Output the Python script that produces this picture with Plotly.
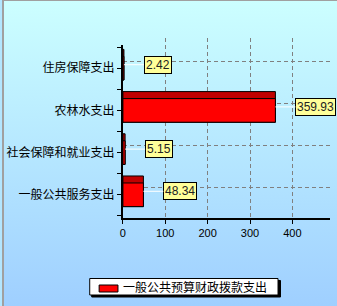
import plotly.graph_objects as go

categories = ["一般公共服务支出", "社会保障和就业支出", "农林水支出", "住房保障支出"]
values = [48.34, 5.15, 359.93, 2.42]
value_labels = ["48.34", "5.15", "359.93", "2.42"]
series_name = "一般公共预算财政拨款支出"
x_ticks = [0, 100, 200, 300, 400]

W, H = 337, 306
def px_x(p):
    return p / W
def px_y(p):
    return 1 - p / H

pos = list(range(len(categories)))
front_off, front_w, depth_w = -0.28, 0.56, 0.166
bar_color, depth_color = "#FF0000", "#C00000"

fig = go.Figure()

# background gradient (subplot xy)
fig.add_trace(go.Scatter(
    x=[0, 1, 1, 0, 0], y=[0, 0, 1, 1, 0], mode="lines", fill="toself",
    line=dict(width=0), fillgradient=dict(type="vertical",
    colorscale=[[0, "#9FCFFF"], [1, "#CCFFFF"]]),
    hoverinfo="skip", showlegend=False, xaxis="x", yaxis="y"))

# grid subplot helper (x2y2)
fig.add_trace(go.Scatter(x=[None], y=[None], xaxis="x2", yaxis="y2",
                         showlegend=False, hoverinfo="skip"))

# depth (top face) bars
fig.add_trace(go.Bar(
    y=pos, x=values, orientation="h", offset=front_off, width=front_w + depth_w,
    marker=dict(color=depth_color, line=dict(color="black", width=1)),
    showlegend=False, hoverinfo="skip", xaxis="x3", yaxis="y3"))
# front bars
fig.add_trace(go.Bar(
    y=pos, x=values, orientation="h", offset=front_off, width=front_w,
    name=series_name, showlegend=False,
    marker=dict(color=bar_color, line=dict(color="black", width=1)),
    xaxis="x3", yaxis="y3"))

label_y = [p + front_off + (front_w + depth_w) / 2 for p in pos]
for v, t, yy in zip(values, value_labels, label_y):
    fig.add_annotation(x=v, y=yy, xref="x3", yref="y3", text=t,
                       showarrow=True, arrowhead=0, arrowcolor="white", arrowwidth=1,
                       ax=20, ay=0, xanchor="left", standoff=0,
                       bgcolor="#FFFF99", bordercolor="black", borderwidth=1, borderpad=1,
                       font=dict(family="Liberation Sans", size=12, color="#222"))

# legend (drawn as box + swatch + text)
fig.add_annotation(x=px_x(119), y=px_y(286.5), xref="paper", yref="paper", text=series_name,
                   showarrow=False, xanchor="left", yanchor="middle",
                   font=dict(family="Noto Sans CJK SC", size=12, color="black"))

x_dom = [px_x(121), px_x(330)]
xr = [0, 489]
y3_dom = [px_y(218), px_y(45)]
y3r = [-0.55, 3.55]
unit = (218 - 45) / (y3r[1] - y3r[0])
# grid subplot shifted up by the 3D depth (7px)
y2_dom = [px_y(218), px_y(38)]
c0 = 218 - (0 - y3r[0]) * unit - 7
y2_lo = -(218 - c0) / unit
y2r = [y2_lo, y2_lo + (218 - 38) / unit]

grid = dict(showgrid=True, gridcolor="#808080", griddash="4px,3px", gridwidth=1)

def prect(x0, y0, x1, y1, fill, line_w=1, line_c="black"):
    return dict(type="rect", xref="paper", yref="paper",
                x0=px_x(x0), x1=px_x(x1), y0=px_y(y1), y1=px_y(y0),
                fillcolor=fill, line=dict(color=line_c, width=line_w))

fig.update_layout(
    width=W, height=H, margin=dict(l=0, r=0, t=0, b=0),
    paper_bgcolor="#B3E6FF", plot_bgcolor="rgba(0,0,0,0)",
    barmode="overlay", showlegend=False,
    xaxis=dict(domain=[0, 1], range=[0, 1], visible=False, fixedrange=True),
    yaxis=dict(domain=[0, 1], range=[0, 1], visible=False, fixedrange=True),
    xaxis2=dict(domain=x_dom, range=xr, anchor="y2", tickvals=x_ticks, showticklabels=False,
                zeroline=False, showline=False, **grid),
    yaxis2=dict(domain=y2_dom, range=y2r, anchor="x2", tickvals=pos, showticklabels=False,
                zeroline=False, showline=False, **grid),
    xaxis3=dict(domain=x_dom, range=xr, anchor="y3", tickvals=x_ticks, showgrid=False,
                zeroline=False, showline=True, linecolor="black", linewidth=2,
                ticks="outside", ticklen=4, tickcolor="black",
                tickfont=dict(family="Liberation Sans", size=11, color="black")),
    yaxis3=dict(domain=y3_dom, range=y3r, anchor="x3", tickvals=pos, ticktext=categories,
                showgrid=False, zeroline=False, showline=True, linecolor="black", linewidth=2,
                ticks="outside", ticklen=4, tickcolor="black",
                minor=dict(tickvals=[p + 0.5 for p in [-1] + pos], ticks="outside", ticklen=4,
                           tickcolor="black"),
                tickfont=dict(family="Noto Sans CJK SC", size=12, color="black")),
    shapes=[dict(type="line", xref="paper", yref="paper", x0=0, x1=0, y0=0, y1=1,
                 line=dict(color="#A0A0A0", width=2)),
            dict(type="line", xref="paper", yref="paper", x0=0, x1=1, y0=1, y1=1,
                 line=dict(color="#A0A0A0", width=2)),
            prect(89.5, 280.5, 280, 297, "black"),
            prect(87.5, 278.5, 277.5, 295, "white"),
            prect(97, 285, 116, 292, bar_color)],
)

fig.write_html("out.html")
